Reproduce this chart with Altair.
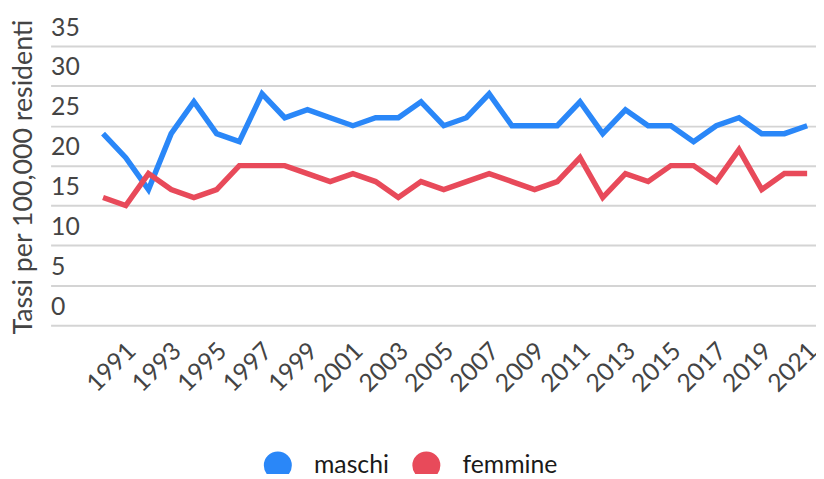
import altair as alt
import pandas as pd

years = list(range(1990, 2022))
maschi = [24, 21, 17, 24, 28, 24, 23, 29, 26, 27, 26, 25, 26, 26,
          28, 25, 26, 29, 25, 25, 25, 28, 24, 27, 25, 25, 23, 25, 26, 24, 24, 25]
femmine = [16, 15, 19, 17, 16, 17, 20, 20, 20, 19, 18, 19, 18, 16,
           18, 17, 18, 19, 18, 17, 18, 21, 16, 19, 18, 20, 20, 18, 22, 17, 19, 19]
series_names = ["maschi", "femmine"]
series_colors = ["#2A87F8", "#E84A5A"]
x_tick_years = list(range(1991, 2022, 2))
y_ticks = [0, 5, 10, 15, 20, 25, 30, 35]

rows = []
for name, vals in zip(series_names, [maschi, femmine]):
    for y, v in zip(years, vals):
        rows.append({"anno": y, "valore": v, "serie": name})
df = pd.DataFrame(rows)

FONT = "Lato"

x_enc = alt.X(
    "anno:Q",
    scale=alt.Scale(domain=[1987.69, 2021.39], nice=False, zero=False),
    axis=alt.Axis(
        values=x_tick_years, format="d", title=None, grid=False,
        domain=False, ticks=False, labelAngle=-45, labelAlign="right",
        labelBaseline="top", labelPadding=13, labelOffset=-3,
        labelFontSize=25, labelFont=FONT, labelColor="#444444",
        labelOverlap=False, labelFlush=False,
    ),
)
y_enc = alt.Y(
    "valore:Q",
    scale=alt.Scale(domain=[0, 35], nice=False),
    axis=alt.Axis(
        values=y_ticks, title="Tassi per 100,000 residenti",
        grid=True, gridColor="#D4D4D4", gridWidth=2, domain=False,
        ticks=False, tickSize=0, labelAlign="left",
        labelBaseline="alphabetic", labelPadding=0, labelOffset=-11,
        labelFontSize=25, labelFont=FONT, labelColor="#444444",
        titleFontSize=27, titleFont=FONT, titleFontWeight="normal",
        titleColor="#444444", titleAngle=-90, titleBaseline="alphabetic",
        titleX=-19, titleY=132, titleAlign="center",
    ),
)
color_scale = alt.Scale(domain=series_names, range=series_colors)

lines = alt.Chart(df).mark_line(
    strokeWidth=5.5, strokeJoin="miter", strokeCap="butt"
).encode(
    x=x_enc, y=y_enc,
    color=alt.Color("serie:N", scale=color_scale, sort=series_names, legend=None),
)

legend_pts = alt.Chart(df).mark_point(filled=True).encode(
    x=x_enc, y=y_enc,
    opacity=alt.value(0),
    color=alt.Color(
        "serie:N", scale=color_scale, sort=series_names,
        legend=alt.Legend(
            title=None, orient="none", legendX=215, legendY=409,
            direction="horizontal", symbolType="circle", symbolSize=800,
            symbolStrokeWidth=0, symbolOpacity=1, labelFontSize=25,
            labelFont=FONT, labelColor="#1a1a1a", labelOffset=22,
            columnPadding=23, padding=0,
        ),
    ),
)

chart = alt.layer(legend_pts, lines).properties(
    width=773, height=282,
    padding={"left": 43, "top": 36, "right": 0, "bottom": 148},
    autosize=alt.AutoSizeParams(type="none"),
).configure_view(stroke=None)

chart.save("out.html", embed_options={"renderer": "svg", "actions": False})
